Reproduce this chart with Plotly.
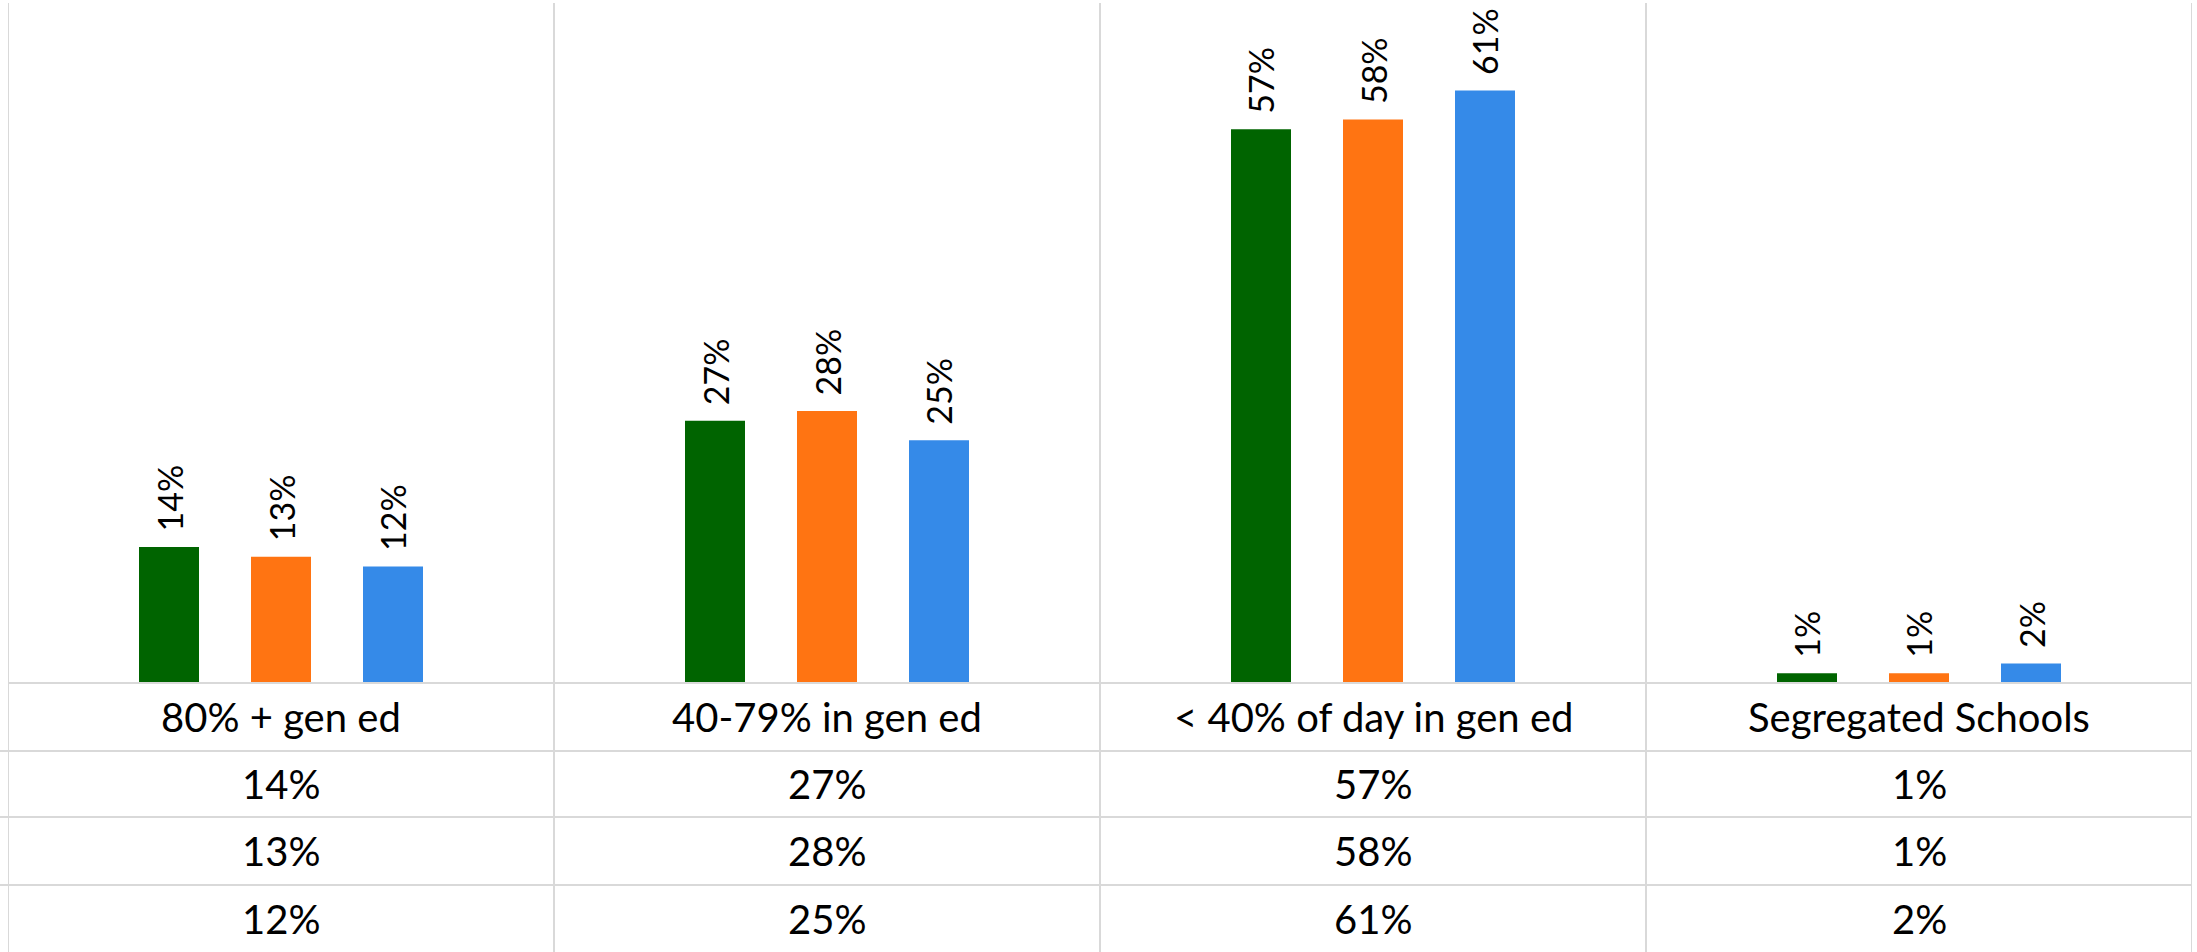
import plotly.graph_objects as go

# Placement of students with disabilities by share of the school day in general education
categories = ["80% + gen ed", "40-79% in gen ed", "< 40% of day in gen ed", "Segregated Schools"]
series_names = ["Series 1", "Series 2", "Series 3"]
series_values = [
    [0.14, 0.27, 0.57, 0.01],
    [0.13, 0.28, 0.58, 0.01],
    [0.12, 0.25, 0.61, 0.02],
]
series_colors = ["#006400", "#FF7412", "#358AE8"]

W, H = 2197, 952
FONT = "Lato"
GRID = "#d9d9d9"

# pixel layout of the chart area and the data table beneath it
plot_left, plot_right = 8, 2192
plot_top, plot_bottom = 3, 683
row_edges = [683, 751, 817, 885, 952]


def py(px):
    """Convert a pixel row (from the top) into paper y."""
    return 1 - px / H


def pxx(px):
    return px / W


col_px = (plot_right - plot_left) / len(categories)
slot = 112 / col_px          # distance between neighbouring bars, in category units
bar_w = 60 / col_px          # bar width, in category units

fig = go.Figure()
for name, vals, color in zip(series_names, series_values, series_colors):
    fig.add_trace(go.Bar(
        name=name,
        x=list(range(len(categories))),
        y=vals,
        marker=dict(color=color, line=dict(width=0)),
        showlegend=False,
        hoverinfo="skip",
    ))

annotations = []
shapes = []

# rotated value labels above each bar
for k, vals in enumerate(series_values):
    for i, v in enumerate(vals):
        annotations.append(dict(
            x=i + (k - 1) * slot, y=v, xref="x", yref="y",
            text=f"{v:.0%}", showarrow=False, textangle=-90,
            xanchor="center", yanchor="bottom", yshift=13,
            font=dict(family=FONT, size=34, color="#000000"),
        ))

# data table: category header row followed by one row per series
row_texts = [categories] + [[f"{v:.0%}" for v in vals] for vals in series_values]
for r, texts in enumerate(row_texts):
    yc = py((row_edges[r] + row_edges[r + 1]) / 2)
    for i, t in enumerate(texts):
        annotations.append(dict(
            x=i, y=yc, xref="x", yref="paper", text=t, showarrow=False,
            xanchor="center", yanchor="middle",
            font=dict(family=FONT, size=40, color="#000000"),
        ))

# column separators running through the chart and the table
for i in range(len(categories) + 1):
    shapes.append(dict(
        type="line", xref="x", yref="paper",
        x0=i - 0.5, x1=i - 0.5, y0=py(plot_top), y1=0,
        line=dict(color=GRID, width=2),
    ))

# horizontal table rules
shapes.append(dict(
    type="line", xref="x", yref="paper", x0=-0.5, x1=len(categories) - 0.5,
    y0=py(row_edges[0]), y1=py(row_edges[0]), line=dict(color=GRID, width=2),
))
for edge in row_edges[1:-1]:
    shapes.append(dict(
        type="line", xref="paper", yref="paper", x0=0, x1=pxx(plot_right),
        y0=py(edge), y1=py(edge), line=dict(color=GRID, width=2),
    ))

fig.update_layout(
    width=W, height=H,
    margin=dict(l=0, r=0, t=0, b=0),
    paper_bgcolor="white", plot_bgcolor="white",
    barmode="group",
    bargap=1 - 3 * slot,
    bargroupgap=1 - bar_w / slot,
    xaxis=dict(
        domain=[pxx(plot_left), pxx(plot_right)],
        range=[-0.5, len(categories) - 0.5],
        showgrid=False, zeroline=False, showticklabels=False, showline=False,
        fixedrange=True,
    ),
    yaxis=dict(
        domain=[py(plot_bottom), py(plot_top)],
        range=[0, 0.70],
        showgrid=False, zeroline=False, showticklabels=False, showline=False,
        fixedrange=True,
    ),
    annotations=annotations,
    shapes=shapes,
)

fig.write_html("out.html", config={"displayModeBar": False})
